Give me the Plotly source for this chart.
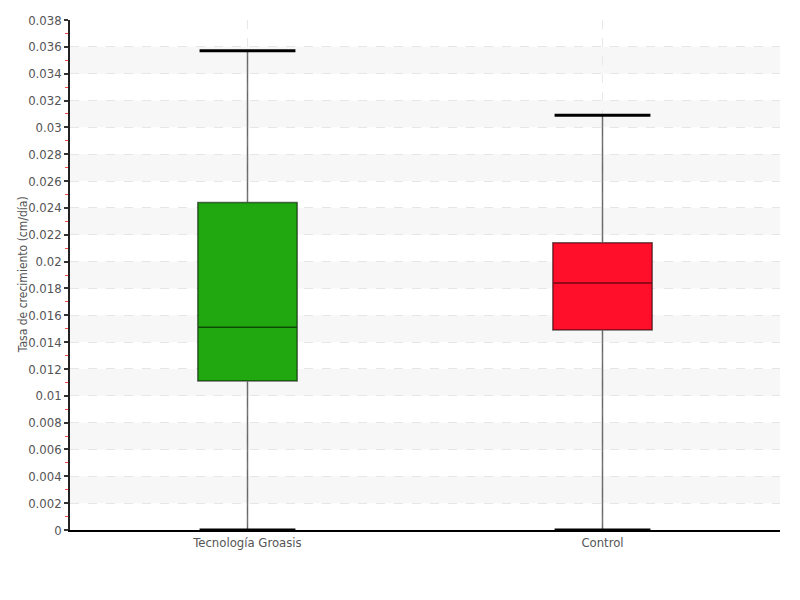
import plotly.graph_objects as go

categories = ["Tecnología Groasis", "Control"]
lower_whisker = [0.0, 0.0]
q1_values = [0.0111, 0.0149]
median_values = [0.0151, 0.0184]
q3_values = [0.0244, 0.0214]
upper_whisker = [0.0357, 0.0309]
box_colors = ["#21a70f", "#ff0f29"]
y_ticks = [round(i * 0.002, 3) for i in range(20)]
y_tick_labels = ["0" if v == 0 else ("%g" % v) for v in y_ticks]

FONT = "DejaVu Sans Condensed, Liberation Sans Narrow, sans-serif"

fig = go.Figure()
for i, cat in enumerate(categories):
    fig.add_trace(go.Box(
        x=[cat],
        q1=[q1_values[i]], median=[median_values[i]], q3=[q3_values[i]],
        lowerfence=[lower_whisker[i]], upperfence=[upper_whisker[i]],
        fillcolor=box_colors[i],
        line=dict(color="rgba(0,0,0,0.55)", width=1.5),
        width=0.28,
        whiskerwidth=0,
        showlegend=False,
        hoverinfo="skip",
    ))

shapes = []
for k in range(1, len(y_ticks) - 1, 2):
    shapes.append(dict(type="rect", xref="paper", yref="y", x0=0, x1=1,
                       y0=y_ticks[k], y1=y_ticks[k + 1],
                       fillcolor="#f7f7f7", line=dict(width=0), layer="below"))
for i in range(len(categories)):
    for yv in (lower_whisker[i], upper_whisker[i]):
        shapes.append(dict(type="line", xref="x", yref="y",
                           x0=i - 0.135, x1=i + 0.135, y0=yv, y1=yv,
                           line=dict(color="black", width=3), layer="above"))

fig.update_layout(
    width=792, height=592,
    margin=dict(l=62, r=20, t=12, b=70, autoexpand=False),
    paper_bgcolor="white", plot_bgcolor="white",
    font=dict(family=FONT, size=13, color="#555555"),
    shapes=shapes,
    annotations=[dict(text="Tasa de crecimiento (cm/día)", xref="paper", yref="paper",
                      x=-0.066, y=0.5, xanchor="center", yanchor="middle",
                      textangle=-90, showarrow=False,
                      font=dict(family=FONT, size=12, color="#555555"))],
    xaxis=dict(
        type="category", automargin=False,
        showline=True, linecolor="black", linewidth=1.5,
        showgrid=True, gridcolor="#e8e8e8", griddash="dash", gridwidth=1,
        ticks="", tickfont=dict(family=FONT, size=13, color="#555555"),
        range=[-0.5, 1.5], zeroline=False,
    ),
    yaxis=dict(
        range=[0, 0.038], automargin=False,
        tickvals=y_ticks, ticktext=y_tick_labels,
        showline=True, linecolor="#222222", linewidth=1.5,
        ticks="outside", ticklen=4, tickcolor="#333333", tickwidth=1.5,
        showgrid=True, gridcolor="#e6e6e6", griddash="dash", gridwidth=1,
        zeroline=False,
        tickfont=dict(family=FONT, size=13, color="#555555"),
        minor=dict(dtick=0.001, ticks="outside", ticklen=3, tickcolor="#ff4d4d",
                   tickwidth=1, showgrid=False),
    ),
)

fig.write_html("out.html")
